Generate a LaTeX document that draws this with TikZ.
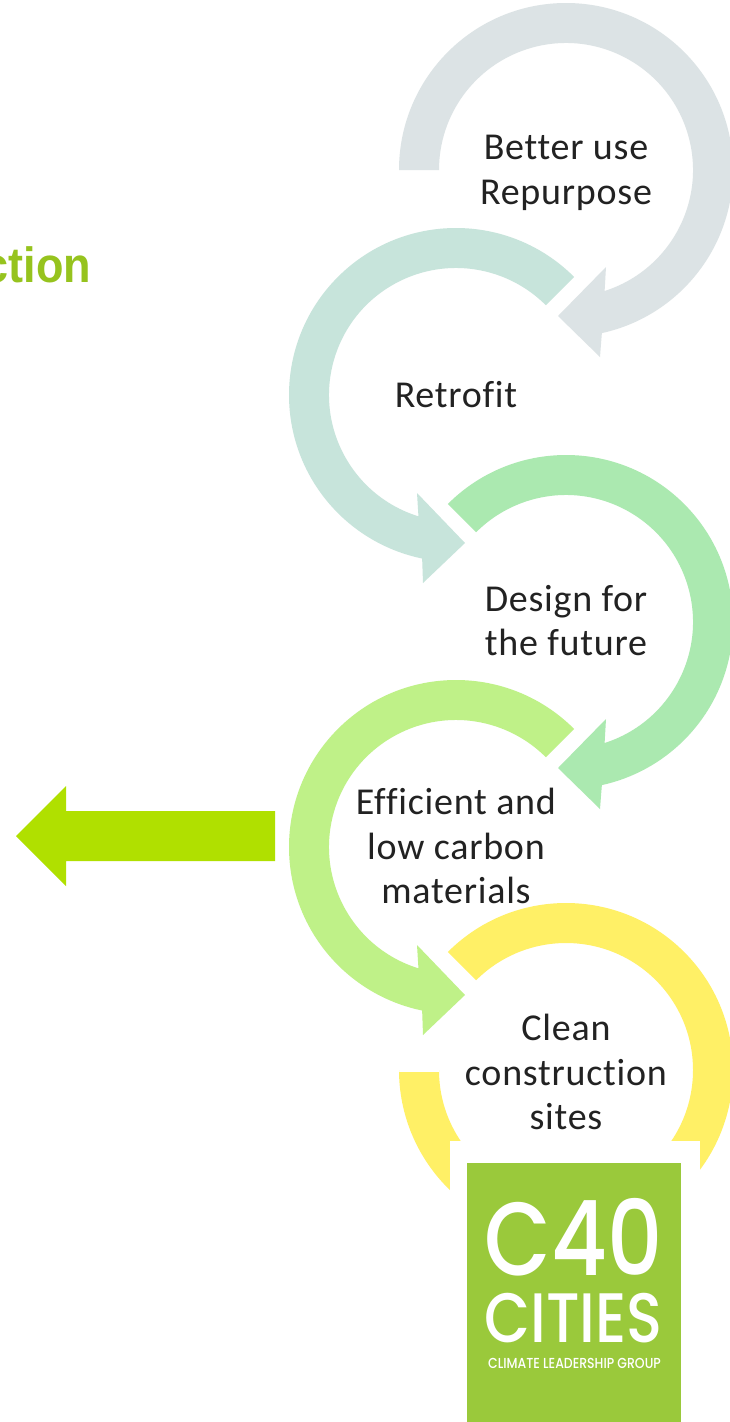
\documentclass[tikz,border=0pt]{standalone}
\usepackage{fontspec}
\setmainfont{Carlito}[Ligatures=NoCommon,LetterSpace=2]
\newfontfamily\arialfont{Liberation Sans}
\newfontfamily\logofont{Poppins Medium}
\definecolor{cA}{HTML}{DCE3E5}
\definecolor{cB}{HTML}{C7E4DB}
\definecolor{cC}{HTML}{ABE9B0}
\definecolor{cD}{HTML}{BFF188}
\definecolor{cE}{HTML}{FFF066}
\definecolor{leftarrow}{HTML}{B0E000}
\definecolor{logogreen}{HTML}{9AC93B}
\definecolor{headgreen}{HTML}{96C31E}
\definecolor{ink}{HTML}{222222}
\newcommand{\ringCW}[4]{% cx cy start colour: clockwise ring arrow
  \begin{scope}[shift={(#1,#2)}]
    \fill[#4] (#3:167) arc[start angle=#3,end angle=437.6,radius=167]
      -- (34,187) -- (-8,146) -- (40,97) -- (432.3:127)
      arc[start angle=432.3,end angle=#3,radius=127] -- cycle;
  \end{scope}}
\newcommand{\ringCCW}[3]{% cx cy colour: anticlockwise ring arrow
  \begin{scope}[shift={(#1,#2)}]
    \fill[#3] (-45:167) arc[start angle=-45,end angle=-258.3,radius=167]
      -- (-33,188) -- (9,148) -- (-39,98) -- (-252.8:127)
      arc[start angle=-252.8,end angle=-45,radius=127] -- cycle;
  \end{scope}}
\tikzset{
  steplabel/.style={font=\fontsize{38}{44.5}\selectfont,text=ink,align=center,inner sep=0pt},
  logotext/.style={text=white,inner sep=0pt,anchor=base}
}
\begin{document}
\begin{tikzpicture}[x=1pt,y=1pt,yscale=-1]
\useasboundingbox (0,0) rectangle (730,1422);
\fill[white] (0,0) rectangle (730,1422);
\begin{scope}
\clip (0,0) rectangle (730,1422);
\ringCW{566}{170}{180}{cA}
\ringCCW{456}{395}{cB}
\ringCW{566}{622}{225}{cC}
\ringCCW{456}{847}{cD}
\begin{scope}[shift={(566,1070)}]
  \fill[cE] (-135:167) arc[start angle=-135,end angle=180,radius=167]
    -- (-167,2) -- (-127,2) -- (180:127)
    arc[start angle=180,end angle=-135,radius=127] -- cycle;
\end{scope}
\fill[leftarrow] (275,811) -- (66,811) -- (66,786) -- (16,836) -- (66,886) -- (66,861) -- (275,861) -- cycle;
\node[anchor=base east,inner sep=0pt,font=\arialfont\bfseries\fontsize{45}{50}\selectfont,text=headgreen] (head) at (91.5,282) {\scalebox{1}[1.1]{ction}};
\end{scope}
\node[steplabel] (n1) at (566,173) {Better use\\Repurpose};
\node[steplabel] (n2) at (456,394.5) {Retrofit};
\node[steplabel] (n3) at (566,620.5) {Design for\\the future};
\node[steplabel] (n4) at (456,846) {Efficient and\\low carbon\\materials};
\node[steplabel] (n5) at (566,1072) {Clean\\construction\\sites};
\fill[white] (450,1141) rectangle (700,1422);
\fill[logogreen] (467,1163) rectangle (681,1422);
\node[logotext,font=\logofont\fontsize{104}{104}\selectfont] (c40) at (573.5,1275) {\scalebox{.83}[1]{C40}};
\node[logotext,font=\logofont\fontsize{70}{70}\selectfont] (cities) at (573.5,1342) {\scalebox{.85}[1]{CITIES}};
\node[logotext,font=\logofont\fontsize{14.5}{14.5}\selectfont] (group) at (574.5,1368) {\scalebox{.86}[1]{CLIMATE LEADERSHIP GROUP}};
\end{tikzpicture}
\end{document}
